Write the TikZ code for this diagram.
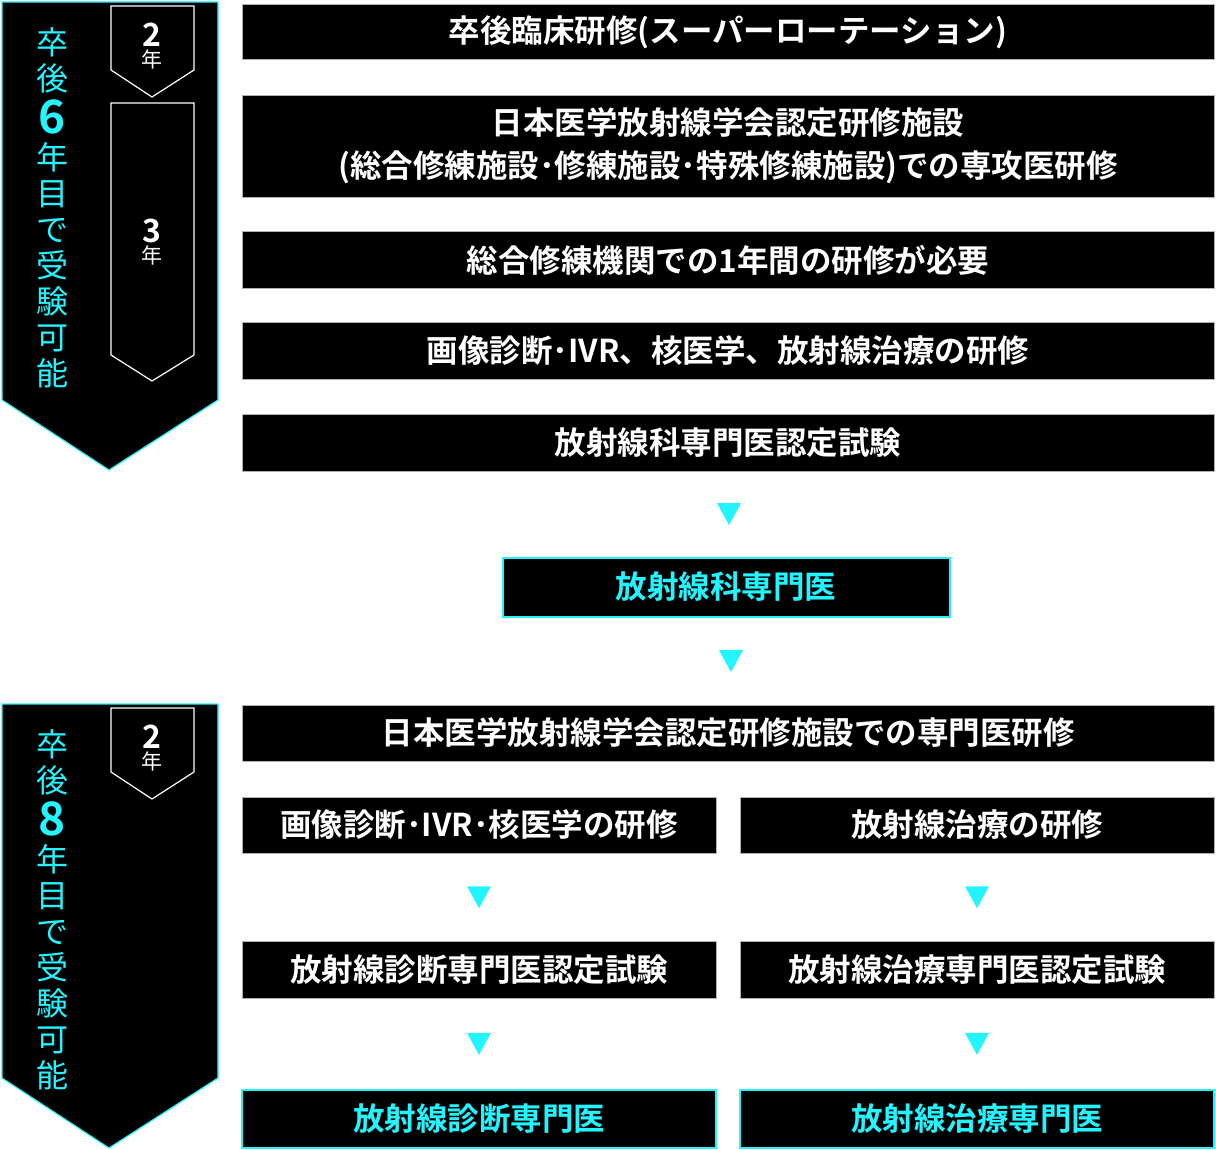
\documentclass[tikz,border=0pt]{standalone}
\usepackage{fontspec}
\setmainfont{Noto Sans CJK JP}[BoldFont={Noto Sans CJK JP Bold}]
\usetikzlibrary{calc}
\definecolor{cy}{HTML}{22F5FF}
\begin{document}
\begin{tikzpicture}[x=1pt,y=-1pt,
  bx/.style={fill=black,draw=gray!60,line width=0.5pt,text=white,font=\bfseries\fontsize{31.5}{43}\selectfont,inner sep=0pt,align=center},
  cbx/.style={fill=black,draw=cy,line width=2pt,text=cy,font=\bfseries\fontsize{31.5}{34}\selectfont,inner sep=0pt},
  vt/.style={text=cy,font=\fontsize{32}{36}\selectfont,align=center,inner sep=0pt},
  yr/.style={text=white,align=center,inner sep=0pt,font=\fontsize{21}{21}\selectfont}]
\useasboundingbox (0,0) rectangle (1216,1150);
\newcommand{\tr}[1]{\fill[cy] ($(#1)+(-12,-11)$) -- ($(#1)+(12,-11)$) -- ($(#1)+(0,11)$) -- cycle;}
% banners
\draw[cy,line width=1.2pt,fill=black] (2,2) -- (218,2) -- (218,400) -- (109,470) -- (2,400) -- cycle;
\draw[white,line width=1.2pt,fill=black] (111,6) -- (194,6) -- (194,70) -- (152,97) -- (111,70) -- cycle;
\draw[white,line width=1.2pt,fill=black] (111,103) -- (194,103) -- (194,355) -- (152,381) -- (111,355) -- cycle;
\node[yr] (y1) at (152,46) {\textbf{\fontsize{32}{30}\selectfont 2}\\年};
\node[yr] (y2) at (152,242) {\textbf{\fontsize{32}{30}\selectfont 3}\\年};
\node[vt] (v1) at (52,208) {卒\\後\\[6pt]{\bfseries\fontsize{46}{37}\selectfont 6}\\年\\目\\で\\受\\験\\可\\能};
\draw[cy,line width=1.2pt,fill=black] (2,704) -- (218,704) -- (218,1078) -- (109,1148) -- (2,1078) -- cycle;
\draw[white,line width=1.2pt,fill=black] (111,708) -- (194,708) -- (194,772) -- (152,799) -- (111,772) -- cycle;
\node[yr] (y3) at (152,748) {\textbf{\fontsize{32}{30}\selectfont 2}\\年};
\node[vt] (v2) at (52,910) {卒\\後\\[6pt]{\bfseries\fontsize{46}{37}\selectfont 8}\\年\\目\\で\\受\\験\\可\\能};
% boxes
\node[bx,minimum width=972,minimum height=55] (r1) at (728,32) {卒後臨床研修(スーパーローテーション)};
\node[bx,minimum width=972,minimum height=102] (r2) at (728,146) {日本医学放射線学会認定研修施設\\(総合修練施設･修練施設･特殊修練施設)での専攻医研修};
\node[bx,minimum width=972,minimum height=57] (r3) at (728,260) {総合修練機関での1年間の研修が必要};
\node[bx,minimum width=972,minimum height=57] (r4) at (728,351) {画像診断･IVR、核医学、放射線治療の研修};
\node[bx,minimum width=972,minimum height=57] (r5) at (728,443) {放射線科専門医認定試験};
\node[cbx,minimum width=447,minimum height=59] (c1) at (726,587) {放射線科専門医};
\node[bx,minimum width=972,minimum height=56] (r6) at (728,733) {日本医学放射線学会認定研修施設での専門医研修};
\node[bx,minimum width=474,minimum height=56] (l1) at (479,825) {画像診断･IVR･核医学の研修};
\node[bx,minimum width=474,minimum height=56] (m1) at (977,825) {放射線治療の研修};
\node[bx,minimum width=474,minimum height=57] (l2) at (479,970) {放射線診断専門医認定試験};
\node[bx,minimum width=474,minimum height=57] (m2) at (977,970) {放射線治療専門医認定試験};
\node[cbx,minimum width=474,minimum height=58] (l3) at (479,1119) {放射線診断専門医};
\node[cbx,minimum width=474,minimum height=58] (m3) at (977,1119) {放射線治療専門医};
% triangles
\coordinate (t1) at ($(r5.south)!0.5!(c1.north)+(2,0)$);
\coordinate (t2) at ($(c1.south)!0.5!(r6.north)+(4,0)$);
\coordinate (t3) at ($(l1.south)!0.5!(l2.north)$);
\coordinate (t4) at ($(m1.south)!0.5!(m2.north)$);
\coordinate (t5) at ($(l2.south)!0.5!(l3.north)$);
\coordinate (t6) at ($(m2.south)!0.5!(m3.north)$);
\foreach \t in {t1,t2,t3,t4,t5,t6} {\tr{\t}}
\end{tikzpicture}
\end{document}
